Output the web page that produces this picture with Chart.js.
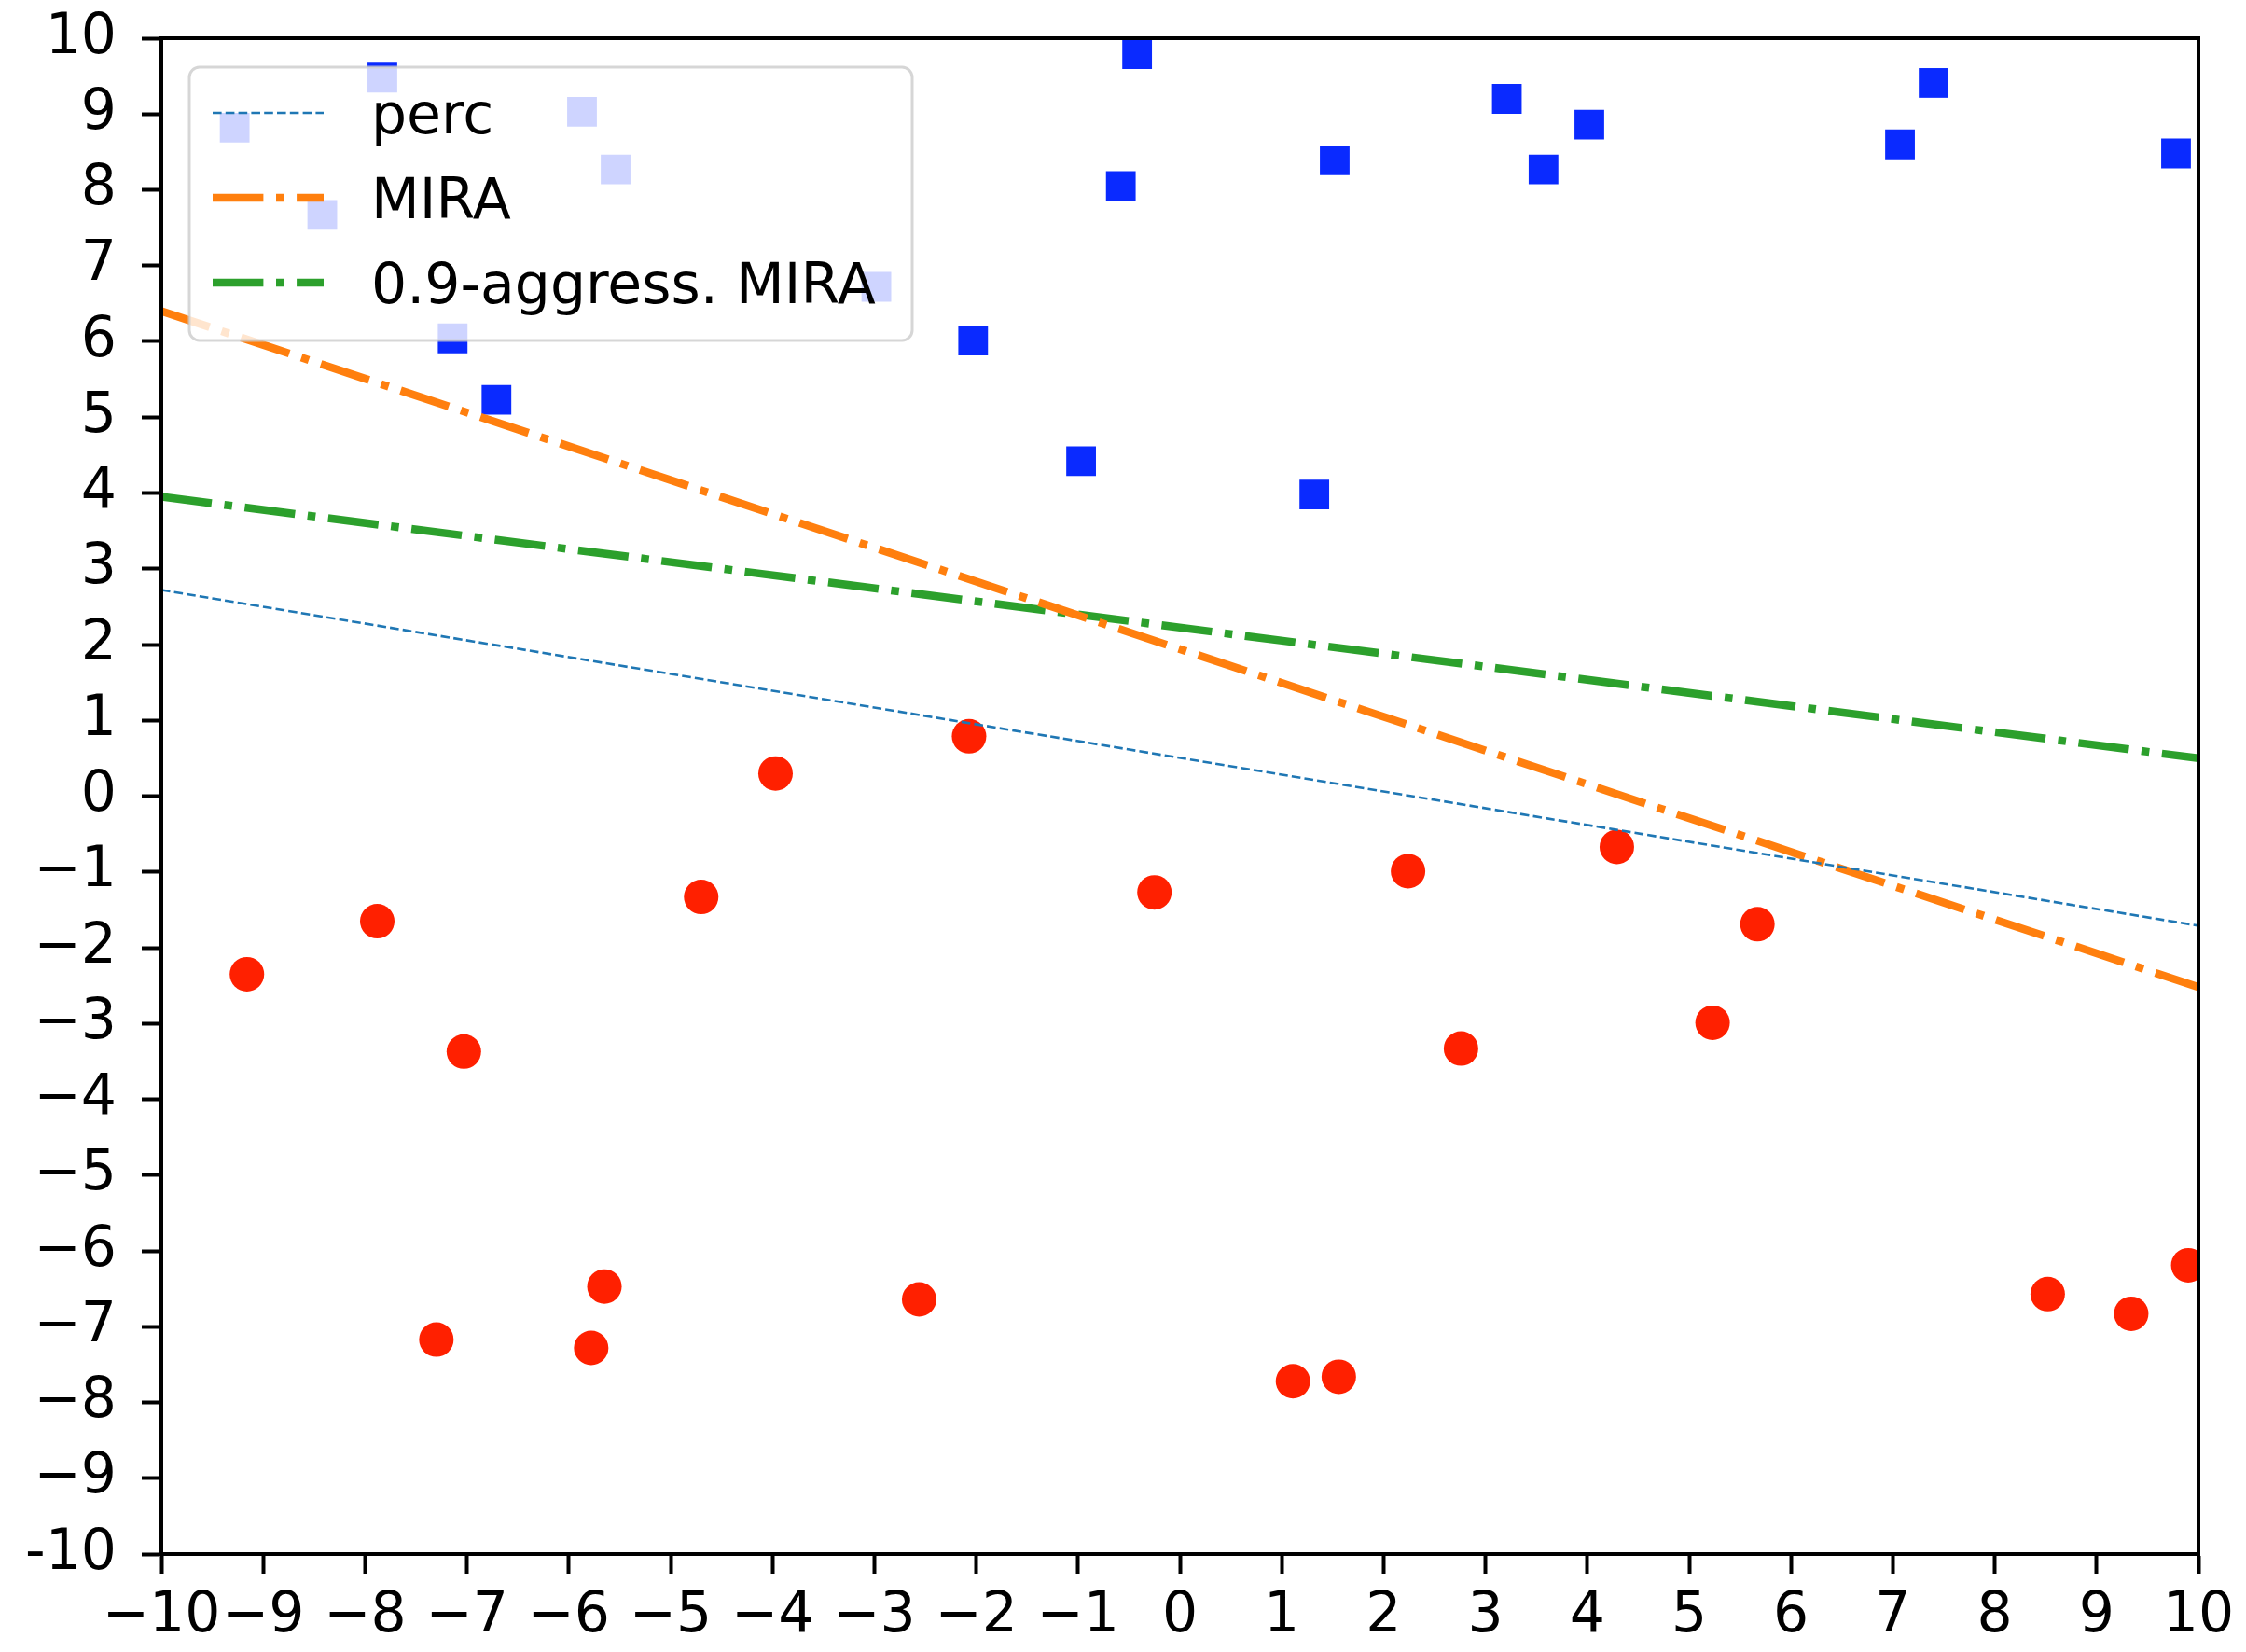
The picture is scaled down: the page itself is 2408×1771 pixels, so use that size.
<!DOCTYPE html>
<html><head><meta charset="utf-8">
<script src="https://cdn.jsdelivr.net/npm/chart.js@4.4.1/dist/chart.umd.min.js"></script>
<style>html,body{margin:0;padding:0;background:#fff;overflow:hidden}</style>
</head><body>
<canvas id="c" width="2408" height="1771" style="display:block;width:2408px;height:1771px"></canvas>
<script>
// ---- data ----
const seriesLabels = ['perc', 'MIRA', '0.9-aggress. MIRA'];
const lineX = [-10, 10];
const percY = [2.72, -1.71];
const miraY = [6.40, -2.52];
const aggrY = [3.95, 0.50];

const blueX = [-9.28, -7.83, -8.42, -5.87, -5.54, -2.98, -7.14, -6.71, -2.03, -0.97, -0.58, -0.42, 1.32, 1.52, 3.21, 3.57, 4.02, 7.07, 7.40, 9.78];
const blueY = [8.82, 9.48, 7.67, 9.03, 8.27, 6.72, 6.04, 5.23, 6.01, 4.42, 8.05, 9.79, 3.98, 8.39, 9.20, 8.27, 8.86, 8.60, 9.41, 8.48];

const redX = [-9.16, -7.88, -7.03, -7.30, -5.65, -5.78, -4.70, -3.97, -2.56, -2.07, -0.25, 1.11, 1.56, 2.24, 2.76, 4.29, 5.23, 5.67, 8.52, 9.34, 9.90];
const redY = [-2.35, -1.65, -3.37, -7.17, -6.47, -7.28, -1.33, 0.30, -6.64, 0.79, -1.27, -7.72, -7.66, -0.99, -3.33, -0.67, -2.99, -1.69, -6.57, -6.83, -6.19];

const xTickLabels = ['\u221210','\u22129','\u22128','\u22127','\u22126','\u22125','\u22124','\u22123','\u22122','\u22121','0','1','2','3','4','5','6','7','8','9','10'];
const yTickLabels = ['-10','\u22129','\u22128','\u22127','\u22126','\u22125','\u22124','\u22123','\u22122','\u22121','0','1','2','3','4','5','6','7','8','9','10'];

// ---- chart ----
const toPts = (xs, ys) => xs.map((x, i) => ({x: x, y: ys[i]}));
const FONT = {family: "'DejaVu Sans', sans-serif", size: 60};

const framePlugin = {
  id: 'frameAndLegend',
  afterDatasetsDraw(chart) {
    const ctx = chart.ctx;
    const a = chart.chartArea;
    ctx.save();
    // frame (spines)
    ctx.lineWidth = 4;
    ctx.strokeStyle = '#000';
    ctx.strokeRect(a.left, a.top, a.right - a.left, a.bottom - a.top);
    // legend
    const bx = a.left + 30, by = a.top + 31, bw = 775, bh = 293;
    ctx.beginPath();
    ctx.roundRect(bx, by, bw, bh, 11);
    ctx.fillStyle = 'rgba(255,255,255,0.8)';
    ctx.fill();
    ctx.lineWidth = 3;
    ctx.strokeStyle = 'rgba(204,204,204,0.8)';
    ctx.stroke();
    const rows = chart.data.datasets.filter(d => d.type === 'line');
    rows.forEach((ds, i) => {
      const cy = by + 49 + i * 91;
      ctx.beginPath();
      ctx.setLineDash(ds.borderDash || []);
      ctx.lineCap = 'butt';
      ctx.lineWidth = ds.borderWidth;
      ctx.strokeStyle = ds.borderColor;
      ctx.moveTo(bx + 25, cy);
      ctx.lineTo(bx + 144, cy);
      ctx.stroke();
      ctx.setLineDash([]);
      ctx.fillStyle = '#000';
      ctx.font = "60px 'DejaVu Sans', sans-serif";
      ctx.textAlign = 'left';
      ctx.textBaseline = 'alphabetic';
      ctx.fillText(ds.label, bx + 195, cy + 21.5);
    });
    ctx.restore();
  }
};

new Chart(document.getElementById('c'), {
  type: 'scatter',
  data: {
    datasets: [
      {type: 'line', label: seriesLabels[0], data: toPts(lineX, percY), borderColor: '#1f77b4', borderWidth: 2.6, borderDash: [9.6, 4.2], borderCapStyle: 'butt', pointRadius: 0, pointHoverRadius: 0, fill: false, clip: 0},
      {type: 'line', label: seriesLabels[1], data: toPts(lineX, miraY), borderColor: '#ff7f0e', borderWidth: 8.5, borderDash: [54.4, 13.6, 8.5, 13.6], borderCapStyle: 'butt', pointRadius: 0, pointHoverRadius: 0, fill: false, clip: 0},
      {type: 'line', label: seriesLabels[2], data: toPts(lineX, aggrY), borderColor: '#2ca02c', borderWidth: 8.5, borderDash: [54.4, 13.6, 8.5, 13.6], borderCapStyle: 'butt', pointRadius: 0, pointHoverRadius: 0, fill: false, clip: 0},
      {type: 'scatter', label: 'positive', data: toPts(blueX, blueY), pointStyle: 'rect', pointRadius: 22.5, pointHoverRadius: 22.5, backgroundColor: '#0a2aff', borderWidth: 0, clip: 0},
      {type: 'scatter', label: 'negative', data: toPts(redX, redY), pointStyle: 'circle', pointRadius: 18.5, pointHoverRadius: 18.5, backgroundColor: '#ff2000', borderWidth: 0, clip: 0}
    ]
  },
  options: {
    responsive: false,
    animation: false,
    devicePixelRatio: 1,
    layout: {padding: {left: 0, top: 41, right: 51, bottom: 0}},
    plugins: {legend: {display: false}, tooltip: {enabled: false}},
    scales: {
      x: {
        type: 'linear', min: -10, max: 10,
        ticks: {stepSize: 1, autoSkip: false, maxRotation: 0, font: FONT, color: '#000', padding: 10,
                callback: (v, i) => xTickLabels[i]},
        grid: {drawOnChartArea: false, drawTicks: true, tickLength: 21, tickWidth: 4, tickColor: '#000'},
        border: {display: true, color: '#000', width: 4},
        afterFit: s => { s.height = 105; s.paddingLeft = 0; s.paddingRight = 0; }
      },
      y: {
        type: 'linear', min: -10, max: 10,
        ticks: {stepSize: 1, autoSkip: false, font: FONT, color: '#000', padding: 27,
                callback: (v, i) => yTickLabels[i]},
        grid: {drawOnChartArea: false, drawTicks: true, tickLength: 21, tickWidth: 4, tickColor: '#000'},
        border: {display: true, color: '#000', width: 4},
        afterFit: s => { s.width = 173; s.paddingTop = 0; s.paddingBottom = 0; }
      }
    }
  },
  plugins: [framePlugin]
});
</script>
</body></html>
